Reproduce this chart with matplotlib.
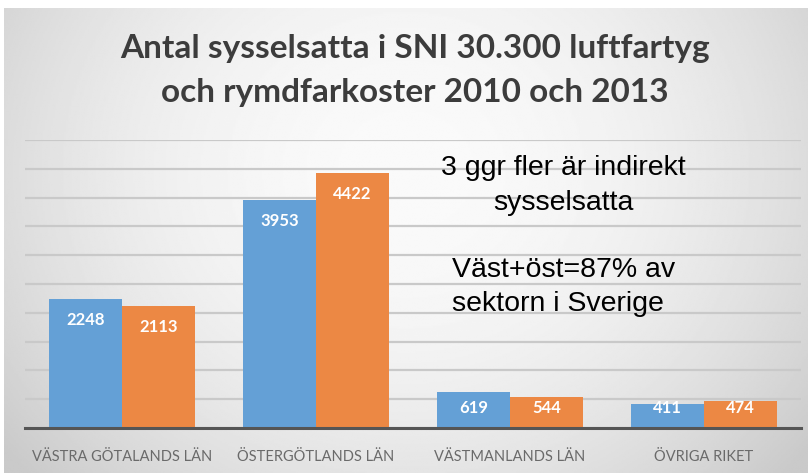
import matplotlib.pyplot as plt
import numpy as np

# chart values
categories = ["VÄSTRA GÖTALANDS LÄN", "ÖSTERGÖTLANDS LÄN", "VÄSTMANLANDS LÄN", "ÖVRIGA RIKET"]
values_2010 = [2248, 3953, 619, 411]
values_2013 = [2113, 4422, 544, 474]
title_lines = ["Antal sysselsatta i SNI 30.300 luftfartyg", "och rymdfarkoster 2010 och 2013"]
note_top = ["3 ggr fler är indirekt", "sysselsatta"]
note_bottom = ["Väst+öst=87% av", "sektorn i Sverige"]

W, H = 808, 473
fig = plt.figure(figsize=(W / 100, H / 100), dpi=100, facecolor="white")

# gray radial background
bg = fig.add_axes([4 / W, 0, (W - 4) / W, (H - 8) / H])
yy, xx = np.mgrid[0:1:300j, 0:1:500j]
r2 = ((xx - 0.5) / 0.62) ** 2 + ((yy - 0.65) / 0.95) ** 2
shade = np.clip(0.98 - 0.18 * r2, 0.79, 1.0)
bg.imshow(shade, cmap="gray", vmin=0, vmax=1, aspect="auto", extent=[0, 1, 0, 1], origin="lower")
bg.axis("off")

ax = fig.add_axes([25 / W, 45 / H, 776 / W, 288 / H])
ax.patch.set_alpha(0)
x = np.arange(len(categories))
bw = 0.372
off = 0.188
b1 = ax.bar(x - off, values_2010, bw, color="#64a0d6", zorder=3)
b2 = ax.bar(x + off, values_2013, bw, color="#ec8844", zorder=3)

ax.set_xlim(-0.5, len(categories) - 0.5)
ax.set_ylim(0, 5000)
ax.set_yticks(np.arange(0, 5001, 500))
ax.yaxis.grid(True, color="#c9c9c9", lw=1.6, zorder=0)
ax.set_axisbelow(True)
ax.tick_params(left=False, labelleft=False, bottom=False)
for s in ["top", "left", "right"]:
    ax.spines[s].set_visible(False)
ax.spines["bottom"].set_color("#555555")
ax.spines["bottom"].set_linewidth(2.2)
ax.spines["bottom"].set_zorder(4)
ax.set_xticks(x)
ax.set_xticklabels(categories, fontname="Lato", fontsize=10.5, color="#6a6a6a")
ax.tick_params(axis="x", pad=12)

for bars, vals in [(b1, values_2010), (b2, values_2013)]:
    for rect, v in zip(bars, vals):
        ypos = max(v - 365, 347)
        ax.text(rect.get_x() + rect.get_width() / 2, ypos, str(v), ha="center", va="center",
                color="white", fontname="Lato", fontweight="bold", fontsize=12, zorder=5)

# title
fig.text(415 / W, 1 - 58 / H, title_lines[0], ha="center", va="baseline",
         fontname="Lato", fontweight="bold", fontsize=24, color="#3c3c3c")
fig.text(415 / W, 1 - 102 / H, title_lines[1], ha="center", va="baseline",
         fontname="Lato", fontweight="bold", fontsize=24, color="#3c3c3c")

# notes
fig.text(563 / W, 1 - 175 / H, note_top[0], ha="center", va="baseline",
         fontname="Liberation Sans", fontsize=20.5, color="black")
fig.text(563 / W, 1 - 210 / H, note_top[1], ha="center", va="baseline",
         fontname="Liberation Sans", fontsize=20.5, color="black")
fig.text(452 / W, 1 - 277 / H, note_bottom[0], ha="left", va="baseline",
         fontname="Liberation Sans", fontsize=20.5, color="black")
fig.text(452 / W, 1 - 311 / H, note_bottom[1], ha="left", va="baseline",
         fontname="Liberation Sans", fontsize=20.5, color="black")

fig.savefig("out.png", dpi=100, facecolor="white")
